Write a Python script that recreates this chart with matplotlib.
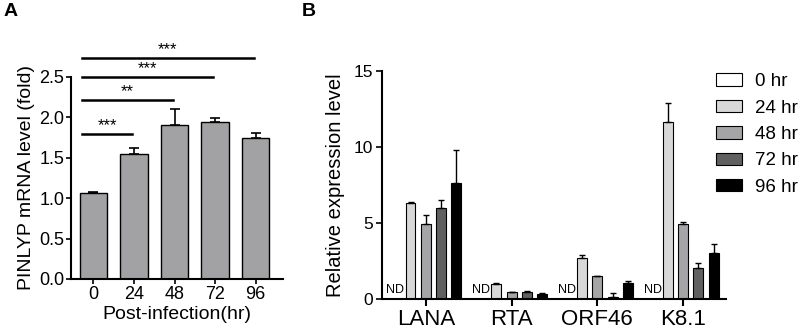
import matplotlib
matplotlib.use("Agg")
import matplotlib.pyplot as plt
import numpy as np

plt.rcParams["font.family"] = ["Liberation Sans", "DejaVu Sans"]

# --- panel A data ---
hours = ["0", "24", "48", "72", "96"]
pinlyp = [1.06, 1.55, 1.91, 1.94, 1.74]
pinlyp_err = [0.02, 0.07, 0.19, 0.05, 0.07]
sig_ends = [1, 2, 3, 4]
sig_labels = ["***", "**", "***", "***"]
sig_y = [1.79, 2.21, 2.50, 2.73]

# --- panel B data ---
genes = ["LANA", "RTA", "ORF46", "K8.1"]
series = ["0 hr", "24 hr", "48 hr", "72 hr", "96 hr"]
expr = {
    "0 hr":  [0, 0, 0, 0],
    "24 hr": [6.35, 1.05, 2.74, 11.65],
    "48 hr": [4.97, 0.50, 1.55, 4.93],
    "72 hr": [6.03, 0.48, 0.15, 2.04],
    "96 hr": [7.67, 0.35, 1.10, 3.03],
}
expr_err = {
    "0 hr":  [0, 0, 0, 0],
    "24 hr": [0.03, 0.02, 0.20, 1.25],
    "48 hr": [0.55, 0.02, 0.02, 0.14],
    "72 hr": [0.52, 0.07, 0.28, 0.35],
    "96 hr": [2.15, 0.07, 0.14, 0.59],
}
nd_series = "0 hr"
colors = ["#ffffff", "#d8d8d8", "#a5a5a8", "#606060", "#000000"]

fig = plt.figure(figsize=(8, 3.34), dpi=100)

# ---------------- A ----------------
axA = fig.add_axes([0.089, 0.1647, 0.265, 0.605])
x = np.arange(len(hours))
axA.bar(x, pinlyp, width=0.68, color="#a2a2a5", edgecolor="black", linewidth=1.0,
        yerr=[np.zeros(len(pinlyp)), pinlyp_err], capsize=3.5,
        error_kw=dict(elinewidth=1.2, capthick=1.2, ecolor="black"))
axA.set_xlim(-0.55, 4.68)
axA.set_ylim(0, 2.5)
axA.set_yticks(np.arange(0, 2.51, 0.5))
axA.set_yticklabels([f"{v:.1f}" for v in np.arange(0, 2.51, 0.5)])
axA.set_xticks(x)
axA.set_xticklabels(hours)
axA.tick_params(labelsize=13, width=1.2, length=3.5, pad=1.5)
axA.spines[["top", "right"]].set_visible(False)
axA.spines[["left", "bottom"]].set_linewidth(1.5)
axA.set_ylabel("PINLYP mRNA level (fold)", fontsize=14, labelpad=3)
axA.set_xlabel("Post-infection(hr)", fontsize=14, labelpad=2)

for end, lab, yy in zip(sig_ends, sig_labels, sig_y):
    x0, x1 = -0.28, end - 0.05
    axA.plot([x0, x1], [yy, yy], color="black", lw=1.8, clip_on=False)
    axA.text((x0 + x1) / 2, yy + 0.01, lab, ha="center", va="bottom",
             fontsize=12, clip_on=False)

fig.text(0.004, 0.99, "A", fontsize=14, fontweight="bold", va="top", ha="left")

# ---------------- B ----------------
axB = fig.add_axes([0.477, 0.1033, 0.431, 0.684])
gx = np.arange(len(genes))
pitch = 0.178
width = 0.116
for i, (s, c) in enumerate(zip(series, colors)):
    pos = gx + (i - 2) * pitch
    vals = expr[s]
    errs = expr_err[s]
    axB.bar(pos, vals, width=width, color=c, edgecolor="black", linewidth=0.8,
            yerr=[np.zeros(len(vals)), errs], capsize=2,
            error_kw=dict(elinewidth=1.0, capthick=1.0, ecolor="black"), label=s)
    if s == nd_series:
        for p in pos:
            axB.text(p, 0.25, "ND", ha="center", va="bottom", fontsize=9)

axB.set_xlim(-0.515, 3.505)
axB.set_ylim(0, 15)
axB.set_yticks([0, 5, 10, 15])
axB.set_xticks(gx)
axB.set_xticklabels(genes, fontsize=16)
axB.tick_params(axis="y", labelsize=12.5, width=1.2, length=4.5, pad=1.5)
axB.tick_params(axis="x", width=1.5, length=5, pad=2)
axB.spines[["top", "right"]].set_visible(False)
axB.spines[["left", "bottom"]].set_linewidth(1.5)
axB.set_ylabel("Relative expression level", fontsize=14.5, labelpad=6)

axB.legend(loc="upper left", bbox_to_anchor=(0.97, 0.99), frameon=False,
           fontsize=13.5, handlelength=1.4, handleheight=0.65, labelspacing=0.5,
           handletextpad=0.7, borderpad=0, borderaxespad=0)

fig.text(0.377, 0.99, "B", fontsize=14, fontweight="bold", va="top", ha="left")

fig.savefig("out.png", dpi=100)
